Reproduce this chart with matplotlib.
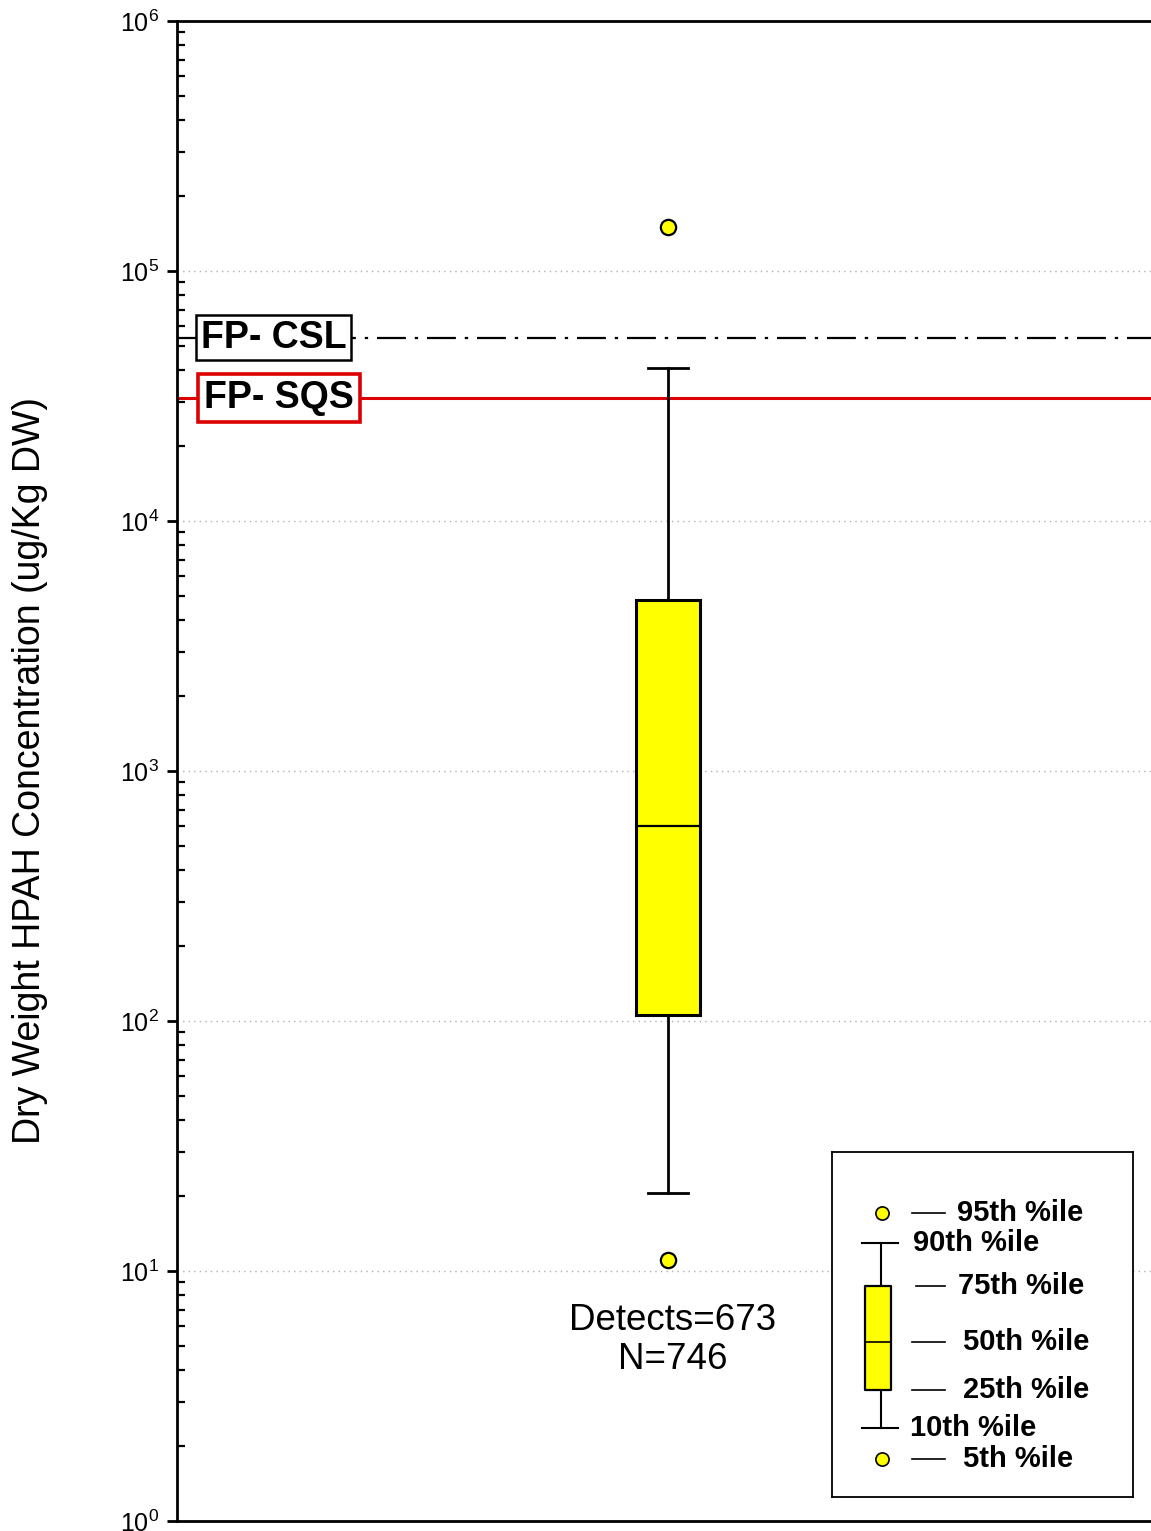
import numpy as np
import matplotlib
matplotlib.use("Agg")
import matplotlib.pyplot as plt
import matplotlib.transforms as mtransforms
from matplotlib.ticker import LogLocator, NullFormatter, FuncFormatter

plt.rcParams['font.family'] = ['Liberation Sans', 'DejaVu Sans']
plt.rcParams['mathtext.fontset'] = 'custom'
plt.rcParams['mathtext.rm'] = 'Liberation Sans'
plt.rcParams['mathtext.it'] = 'Liberation Sans'

# HPAH percentile summary (ug/Kg DW)
p05 = 11.1
p10 = 20.5
p25 = 106.0
p50 = 600.0
p75 = 4830.0
p90 = 41000.0
p95 = 150000.0
n_detects = 673
n_total = 746

# screening levels
csl_value = 54000.0
sqs_value = 31000.0
csl_label = "FP- CSL"
sqs_label = "FP- SQS"

legend_labels = ["95th %ile", "90th %ile", "75th %ile", "50th %ile",
                 "25th %ile", "10th %ile", "5th %ile"]

yellow = '#ffff00'

fig = plt.figure(figsize=(11.51, 15.31), dpi=100)
ax = fig.add_axes([177/1151, 1-1521/1531, 982/1151, 1500/1531])

stats = [dict(med=p50, q1=p25, q3=p75, whislo=p10, whishi=p90,
              fliers=[p95, p05])]
ax.bxp(stats, positions=[1.0], widths=0.13, capwidths=0.082,
       patch_artist=True, showfliers=True,
       boxprops=dict(facecolor=yellow, edgecolor='black', linewidth=2.2),
       medianprops=dict(color='black', linewidth=1.6),
       whiskerprops=dict(color='black', linewidth=2.0),
       capprops=dict(color='black', linewidth=2.0),
       flierprops=dict(marker='o', markerfacecolor=yellow, markeredgecolor='black',
                       markersize=11, markeredgewidth=1.6))

ax.set_yscale('log')
ax.set_ylim(1, 1e6)
ax.set_xlim(0, 2)
ax.set_xticks([])

# reference lines
ax.axhline(csl_value, color='black', linewidth=1.6, linestyle=(0, (13, 4, 1.5, 4)), zorder=1)
ax.axhline(sqs_value, color='#dd0000', linewidth=2.2, zorder=1)

trans = mtransforms.blended_transform_factory(ax.transAxes, ax.transData)
ax.text(0.024, csl_value, csl_label, transform=trans, fontsize=27, fontweight='bold',
        va='center', ha='left', zorder=5,
        bbox=dict(boxstyle='square,pad=0.12', facecolor='white', edgecolor='black', linewidth=1.8))
ax.text(0.028, sqs_value, sqs_label, transform=trans, fontsize=27, fontweight='bold',
        va='center', ha='left', zorder=5,
        bbox=dict(boxstyle='square,pad=0.16', facecolor='white', edgecolor='#dd0000', linewidth=2.6))

ax.text(1.01, 5.3, "Detects=%d\nN=%d" % (n_detects, n_total), fontsize=26.5,
        ha='center', va='center', linespacing=1.12)

# axes styling
ax.spines['right'].set_visible(False)
for s in ['left', 'top', 'bottom']:
    ax.spines[s].set_linewidth(2.0)

ax.yaxis.set_major_locator(LogLocator(base=10, numticks=10))
ax.yaxis.set_minor_locator(LogLocator(base=10, subs=np.arange(2, 10), numticks=20))
ax.yaxis.set_minor_formatter(NullFormatter())
ax.yaxis.set_major_formatter(FuncFormatter(lambda v, p: r'$\mathregular{10^{%d}}$' % round(np.log10(v))))
ax.tick_params(axis='y', which='major', direction='out', length=7, width=2.0,
               labelsize=18, pad=6)
ax.tick_params(axis='y', which='minor', direction='in', length=6, width=1.6)
ax.yaxis.grid(True, which='major', linestyle=(0, (1, 3)), color='#b0b0b0', linewidth=1.0)
ax.set_axisbelow(True)

fig.text(30/1151, 1-771/1531, "Dry Weight HPAH Concentration (ug/Kg DW)",
         rotation=90, fontsize=27, ha='center', va='center')

# legend key drawn as a small box plot
lg = fig.add_axes([832/1151, 1-1497/1531, 301/1151, 345/1531])
lg.set_xlim(832, 1133)
lg.set_ylim(1497, 1152)
lg.set_xticks([])
lg.set_yticks([])
for s in lg.spines.values():
    s.set_linewidth(1.3)

key_x = 881
row_y = [1213, 1243, 1286, 1342, 1390, 1428, 1459]
lg.plot([key_x, key_x], [row_y[1], row_y[5]], color='black', lw=1.5, zorder=1)
lg.fill_between([865, 891], row_y[2], row_y[4], facecolor=yellow, edgecolor='black',
                linewidth=1.6, zorder=2)
lg.plot([865, 891], [row_y[3], row_y[3]], color='black', lw=1.2, zorder=3)
for yy in (row_y[1], row_y[5]):
    lg.plot([862, 898], [yy, yy], color='black', lw=1.5)
for yy in (row_y[0], row_y[6]):
    lg.plot([882], [yy], marker='o', markersize=9.5, markerfacecolor=yellow,
            markeredgecolor='black', markeredgewidth=1.2)

dash_x = [(912, 945), None, (916, 945), (912, 945), (912, 945), None, (912, 945)]
text_x = [957, 913, 958, 963, 963, 910, 963]
for lbl, yy, dx, tx in zip(legend_labels, row_y, dash_x, text_x):
    if dx is not None:
        lg.plot(dx, [yy, yy], color='black', lw=1.2)
    lg.text(tx, yy, lbl, fontsize=21, fontweight='bold', ha='left', va='center')

fig.savefig('out.png', dpi=100)
